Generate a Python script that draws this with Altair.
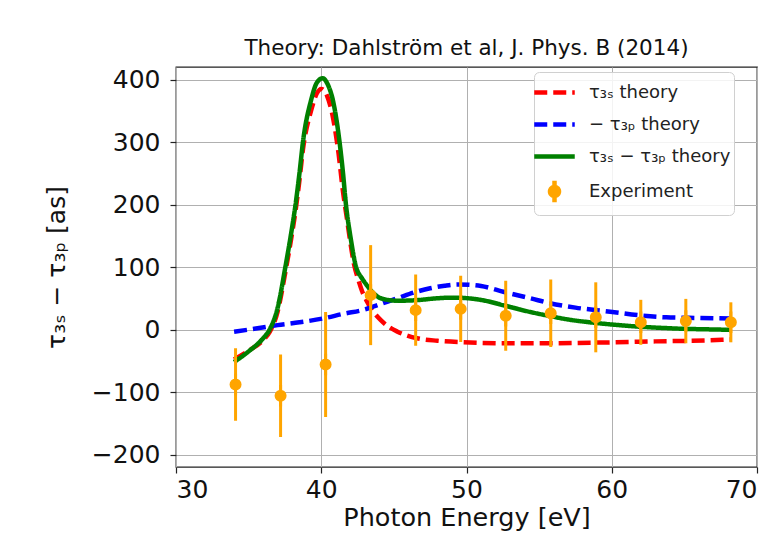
import altair as alt
import pandas as pd

# ---- data ----
names = ["τ₃ₛ theory", "− τ₃ₚ theory", "τ₃ₛ − τ₃ₚ theory", "Experiment"]
colors = ["#ff0000", "#0000ff", "#008000", "#ffa500"]

red_E = [34.0, 35.0, 36.0, 36.45, 37.0, 37.53, 37.9, 38.23, 38.5, 38.74, 39.3, 39.7, 40.0,
         40.4, 40.8, 41.2, 41.5, 41.75, 42.0, 42.25, 42.56, 42.8, 43.1, 43.6, 44.1, 44.6,
         45.25, 45.9, 46.6, 48.0, 49.8, 52.8, 55.0, 57.5, 60.1, 63.0, 65.5, 68.2]
red_V = [-48, -34, -17, -4, 29, 92, 141, 190, 239, 288, 350, 378, 385,
         374, 340, 280, 220, 180, 140, 105, 79, 62, 47, 28, 15, 5,
         -3.5, -9.5, -14, -18, -20.5, -22, -22, -21.5, -20.5, -19, -18, -16]

blue_E = [34.0, 35.5, 37.0, 38.5, 40.2, 41.5, 43.0, 44.0, 45.25, 46.5, 47.5, 48.5, 49.4,
          50.2, 51.0, 52.6, 54.4, 55.75, 57.5, 59.9, 61.8, 63.75, 65.8, 68.2]
blue_V = [-3.5, 1.5, 7, 11.5, 18, 25, 32, 40, 50, 60, 66, 70, 72,
          71.5, 69.6, 60, 50, 42, 35, 28.5, 23, 19.5, 18.5, 17.5]

green_E = [34.0, 35.0, 36.0, 36.45, 37.0, 37.53, 37.9, 38.23, 38.5, 38.74, 39.3, 39.7, 40.1,
           40.45, 40.8, 41.26, 41.5, 41.7, 42.0, 42.4, 42.8, 43.1, 43.6, 44.1, 45.25, 46.6,
           48.0, 49.1, 50.5, 51.5, 52.5, 54.4, 55.75, 57.0, 58.7, 60.0, 61.9, 63.5, 65.1,
           66.5, 68.2]
green_V = [-52, -35, -14, 0, 35, 100, 150, 200, 250, 300, 367, 395, 402,
           392, 367, 300, 250, 200, 150, 100, 82, 72, 58, 50, 46, 47,
           50, 51, 49, 45, 39, 28, 21.5, 16, 11, 8, 4.5, 2.5, 1,
           0.3, -0.5]

exp_E = [34.1, 37.2, 40.3, 43.4, 46.5, 49.6, 52.7, 55.8, 58.9, 62.0, 65.1, 68.2]
exp_V = [-88, -106, -56, 55, 31, 33, 22, 26, 19.5, 11.5, 13.5, 11.5]
exp_err = [58, 66, 84, 80, 57, 53, 56, 54, 56, 36, 35.5, 32]

# ---- tables ----
def series_df(E, V, name):
    return pd.DataFrame({"E": E, "V": V, "series": name})

red_df = series_df(red_E, red_V, names[0])
blue_df = series_df(blue_E, blue_V, names[1])
green_df = series_df(green_E, green_V, names[2])
exp_df = pd.DataFrame({"E": exp_E, "V": exp_V,
                       "lo": [v - e for v, e in zip(exp_V, exp_err)],
                       "hi": [v + e for v, e in zip(exp_V, exp_err)],
                       "series": names[3]})

FONT = "DejaVu Sans"
line_path = "M-1.35,0L1.35,0"
err_path = "M0,-0.72L0,0.72M0.3,0A0.3,0.3,0,1,1,-0.3,0A0.3,0.3,0,1,1,0.3,0Z"

x_enc = alt.X("E:Q", scale=alt.Scale(domain=[30, 70], nice=False, zero=False),
              axis=alt.Axis(values=[30, 40, 50, 60, 70], title="Photon Energy [eV]", format="d"))
y_enc = alt.Y("V:Q", scale=alt.Scale(domain=[-220, 420], nice=False, zero=False),
              axis=alt.Axis(values=[-200, -100, 0, 100, 200, 300, 400], title="τ₃ₛ − τ₃ₚ [as]",
                            format="d", labelExpr="replace(datum.label, '-', '−')"))

legend = alt.Legend(title=None, orient="none", legendX=358, legendY=5,
                    fillColor="rgba(255,255,255,0.85)", strokeColor="#d0d0d0",
                    cornerRadius=5, padding=3, rowPadding=5, symbolSize=900,
                    labelFontSize=18, labelFont=FONT, labelColor="#222222",
                    labelOffset=17, labelLimit=400)

color_enc = alt.Color("series:N", scale=alt.Scale(domain=names, range=colors), legend=legend)
dash_enc = alt.StrokeDash("series:N", scale=alt.Scale(domain=names, range=[[13, 6], [13, 6], [1, 0], [1, 0]]),
                          legend=legend)
width_enc = alt.StrokeWidth("series:N", scale=alt.Scale(domain=names, range=[4.5, 4.5, 8.5, 3]),
                            legend=legend)
shape_enc = alt.Shape("series:N", scale=alt.Scale(domain=names, range=[line_path, line_path, line_path, err_path]),
                      legend=legend)

def line_layer(df):
    return alt.Chart(df).mark_line(strokeCap="butt", strokeJoin="round", interpolate="monotone").encode(
        x=x_enc, y=y_enc, color=color_enc, strokeDash=dash_enc, strokeWidth=width_enc,
        order=alt.Order("E:Q"))

err_layer = alt.Chart(exp_df).mark_rule(color="#ffa500", strokeWidth=3).encode(
    x="E:Q", y="lo:Q", y2="hi:Q")

pt_layer = alt.Chart(exp_df).mark_point(filled=True, opacity=1, stroke="#ffa500", strokeWidth=3).encode(
    x="E:Q", y="V:Q", color=color_enc, shape=shape_enc, size=alt.value(900))

chart = alt.layer(line_layer(red_df), line_layer(blue_df), line_layer(green_df),
                  err_layer, pt_layer).properties(
    width=581, height=400,
    padding={"left": 168, "top": 59, "right": 8, "bottom": 64},
    autosize=alt.AutoSizeParams(type="none"),
    title=alt.TitleParams(text="Theory: Dahlström et al, J. Phys. B (2014)", fontSize=21.5,
                          font=FONT, fontWeight="normal", color="#111111", offset=8, anchor="middle"),
).configure(background="white", font=FONT).configure_view(
    stroke="#222222", strokeWidth=1.3
).configure_axis(
    labelFont=FONT, labelFontSize=25, labelColor="#111111",
    titleFont=FONT, titleFontSize=25, titleColor="#111111", titleFontWeight="normal",
    grid=True, gridColor="#b0b0b0", gridWidth=1,
    tickColor="#222222", tickSize=6, tickWidth=1.2, domain=False,
).configure_axisX(labelPadding=4, titlePadding=3, titleFontSize=25.5).configure_axisY(labelPadding=10, titlePadding=22)

chart.save("out.html", embed_options={"renderer": "svg", "actions": False})
